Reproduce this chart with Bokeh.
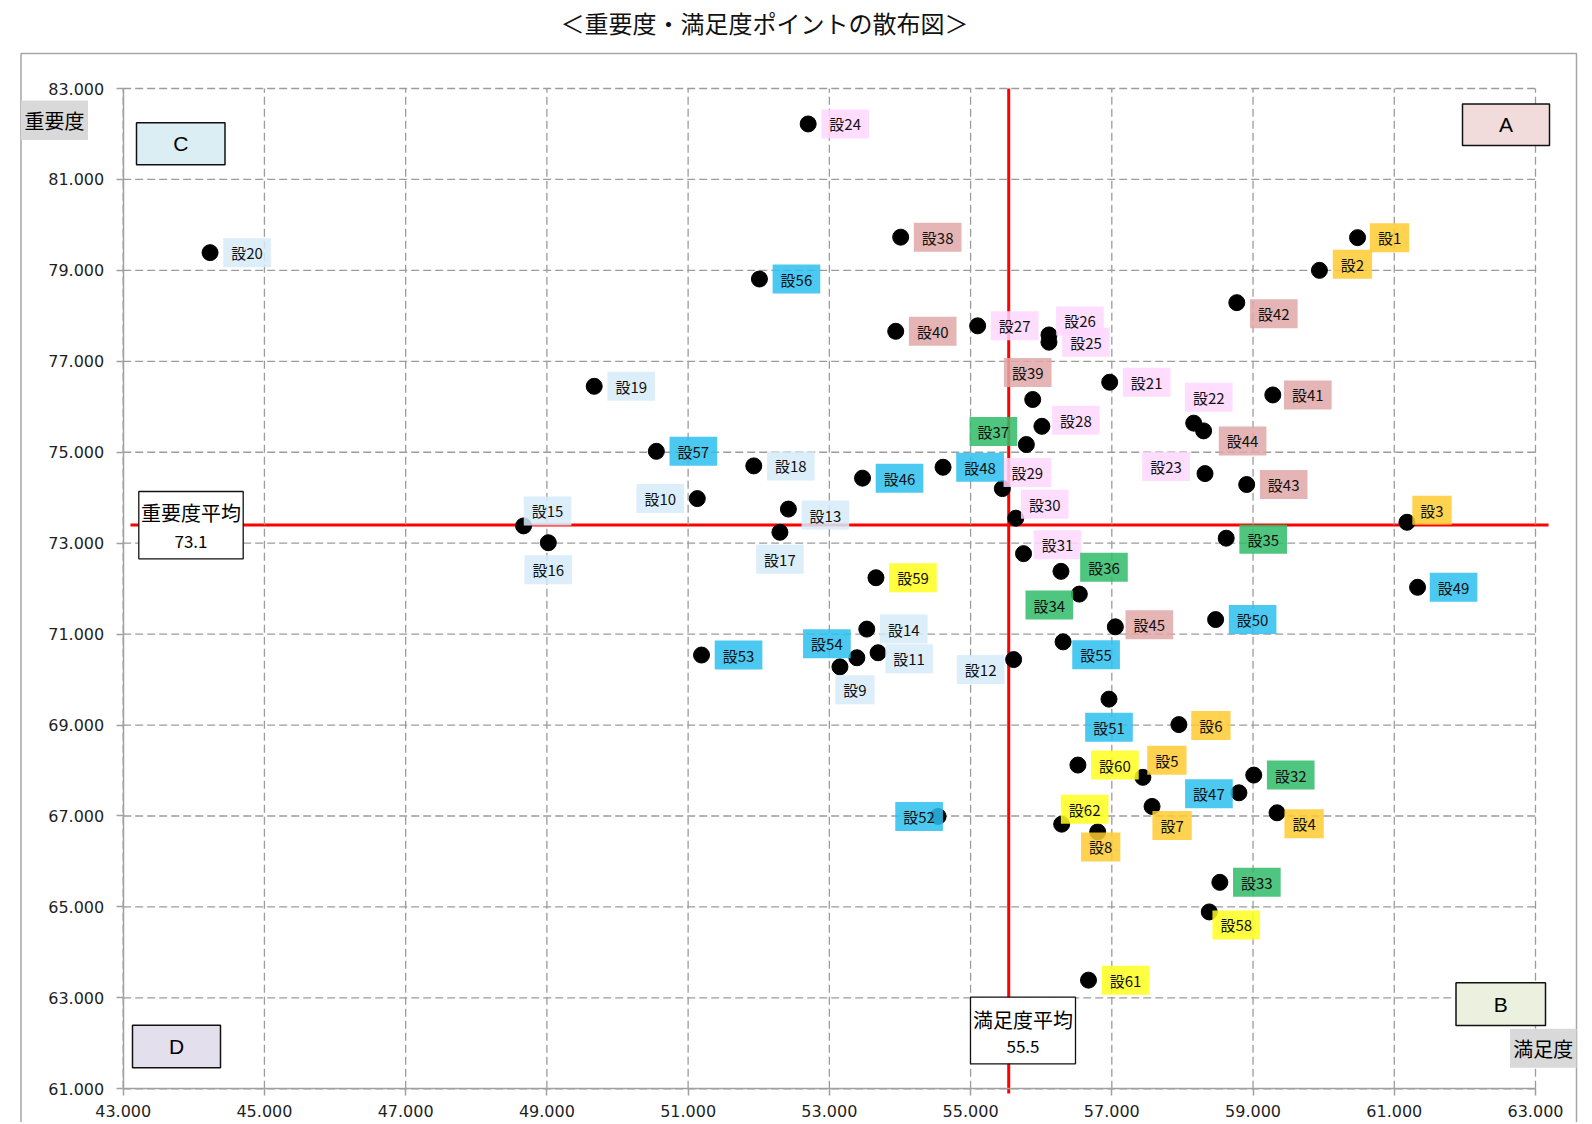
from bokeh.plotting import figure
from bokeh.models import (ColumnDataSource, FixedTicker, PrintfTickFormatter,
                          BoxAnnotation, Label, Arrow, Range1d, LinearAxis)
from bokeh.core.properties import value, field
from bokeh.embed import file_html
from bokeh.resources import INLINE

# ---------------- data ----------------
title_text = "＜重要度・満足度ポイントの散布図＞"
x_axis_title = "満足度"
y_axis_title = "重要度"

item_ids = list(range(1, 63))
item_names = ["設%d" % i for i in item_ids]

satisfaction = [
    60.48, 59.94, 61.18, 59.34, 57.44, 57.95, 57.57, 56.80,            # 1-8
    53.15, 51.13, 53.69, 55.61, 52.42, 53.53, 48.67, 49.02, 52.30,      # 9-17
    51.93, 49.67, 44.23,                                                # 18-20
    56.97, 58.16, 58.32, 52.70, 56.11, 56.11, 55.10, 56.01, 55.45,      # 21-29
    55.64, 55.75,                                                       # 30-31
    59.01, 58.53, 56.54, 58.62, 56.28, 55.79,                           # 32-37
    54.01, 55.88, 53.94, 59.28, 58.77, 58.91, 58.30, 57.05,             # 38-45
    53.47, 58.80, 54.61, 61.33, 58.47, 56.96, 54.54, 51.19, 53.39,      # 46-54
    56.31, 52.01, 50.55,                                                # 55-57
    58.38, 53.66, 56.52, 56.67, 56.29,                                  # 58-62
]
importance = [
    79.72, 79.00, 73.46, 67.07, 67.85, 69.01, 67.21, 66.65,            # 1-8
    70.28, 73.98, 70.59, 70.44, 73.75, 71.11, 73.38, 73.01, 73.24,      # 9-17
    74.70, 76.45, 79.39,                                                # 18-20
    76.54, 75.64, 74.53, 82.22, 77.42, 77.58, 77.78, 75.57, 74.20,      # 21-29
    73.55, 72.77,                                                       # 30-31
    67.90, 65.54, 71.88, 73.11, 72.38, 75.17,                           # 32-37
    79.73, 76.16, 77.66, 76.26, 78.29, 74.29, 75.47, 71.16,             # 38-45
    74.43, 67.51, 74.67, 72.03, 71.32, 69.57, 66.99, 70.54, 70.48,      # 46-54
    70.83, 78.81, 75.02,                                                # 55-57
    64.89, 72.24, 68.12, 63.39, 66.82,                                  # 58-62
]
groups = (["g1"] * 8 + ["g2"] * 12 + ["g3"] * 11 + ["g4"] * 6 +
          ["g5"] * 8 + ["g6"] * 12 + ["g7"] * 5)

satisfaction_avg_text = "55.5"
importance_avg_text = "73.1"
satisfaction_line = 55.54
importance_line = 73.40

x_ticks = [43, 45, 47, 49, 51, 53, 55, 57, 59, 61, 63]
y_ticks = [61, 63, 65, 67, 69, 71, 73, 75, 77, 79, 81, 83]

# ---------------- styles / layout ----------------
group_colors = {"g1": "#FFCA30", "g2": "#D7EBFA", "g3": "#FFD7FF", "g4": "#30BC68",
                "g5": "#E0A7A7", "g6": "#2CBFEF", "g7": "#FFFF1D"}

# label offsets from their point, in pixels (right, down)
label_dx = [32, 33, 25, 27, 24, 32, 20, 3,
            15, -37, 31, -33, 37, 37, 24, 0, 0, 37, 37, 37,
            37, 15, -39, 37, 37, 31, 37, 34, 25, 29, 34,
            37, 37, -30, 37, 43, -33,
            37, -5, 37, 35, 37, 37, 39, 34,
            37, -30, 37, 36, 37, 0, -19, 37, -30, 33, 37, 37,
            27, 37, 37, 37, 23]
label_dy = [0, -6, -12, 11, -17, 1, 19, 15,
            23, 0, 6, 10, 6, 0, -15, 27, 27, 0, 0, 0,
            0, -26, -7, 0, 0, -14, 0, -6, -16, -14, -9,
            0, 0, 11, 1, -4, -13,
            0, -27, 0, 0, 11, 0, 10, -2,
            0, 1, 0, 0, 0, 28, 0, 0, -14, 13, 0, 0,
            13, 0, 0, 0, -15]

X_MIN, X_MAX = 43, 63
Y_MIN, Y_MAX = 61, 83
W, H = 1588, 1122
# where the axis extents sit on the page, in pixels
F_L, F_R, F_T, F_B = 122.7, 1535.0, 88.0, 1088.3


def rx(px):
    return X_MIN + (px - F_L) * (X_MAX - X_MIN) / (F_R - F_L)


def ry(py):
    return Y_MAX - (py - F_T) * (Y_MAX - Y_MIN) / (F_B - F_T)


src = ColumnDataSource(dict(
    x=satisfaction, y=importance, name=item_names,
    label_bg=[group_colors[g] for g in groups],
    dx=label_dx, dy=label_dy,
))

p = figure(width=W, height=H, frame_width=W, frame_height=H,
           min_border=0, x_axis_location=None, y_axis_location=None,
           x_range=Range1d(rx(0), rx(W)), y_range=Range1d(ry(H), ry(0)),
           output_backend="svg", toolbar_location=None, tools="")
p.outline_line_color = None
p.background_fill_color = "white"
p.border_fill_color = "white"
p.xgrid.visible = False
p.ygrid.visible = False

# grid lines from the tick arrays
grid_style = dict(line_color="#9c9c9c", line_dash="8 4", line_width=1.3)
p.segment(x0=x_ticks, y0=[Y_MIN] * len(x_ticks), x1=x_ticks, y1=[Y_MAX] * len(x_ticks),
          **grid_style)
p.segment(x0=[X_MIN] * len(y_ticks), y0=y_ticks, x1=[X_MAX] * len(y_ticks), y1=y_ticks,
          **grid_style)

xaxis = LinearAxis(fixed_location=Y_MIN, bounds=(X_MIN, X_MAX))
yaxis = LinearAxis(fixed_location=X_MIN, bounds=(Y_MIN, Y_MAX))
for ax, ticks in ((xaxis, x_ticks), (yaxis, y_ticks)):
    ax.ticker = FixedTicker(ticks=ticks)
    ax.formatter = PrintfTickFormatter(format="%.3f")
    ax.major_label_text_font = "DejaVu Sans"
    ax.major_label_text_font_size = "16px"
    ax.major_label_text_color = "#1f1f1f"
    ax.axis_line_color = "#a0a0a0"
    ax.axis_line_width = 1.5
    ax.major_tick_line_color = "#a0a0a0"
    ax.major_tick_line_width = 1.5
    ax.major_tick_out = 7
    ax.major_tick_in = 0
    ax.minor_tick_line_color = None
xaxis.major_label_standoff = 9
yaxis.major_label_standoff = 12
p.add_layout(xaxis, "below")
p.add_layout(yaxis, "left")

# average lines
p.add_layout(Arrow(end=None, x_start=rx(130), y_start=importance_line,
                   x_end=rx(1548), y_end=importance_line,
                   line_color="#ff0000", line_width=3, level="underlay"))
p.add_layout(Arrow(end=None, x_start=satisfaction_line, y_start=Y_MAX,
                   x_end=satisfaction_line, y_end=ry(1093),
                   line_color="#ff0000", line_width=3, level="underlay"))

# points and labels
p.scatter("x", "y", source=src, size=16, color="black")
p.text(x="x", y="y", text="name", source=src, x_offset="dx", y_offset="dy",
       text_align="center", text_baseline="middle",
       text_font=value("Noto Sans CJK JP"), text_font_size="15px",
       text_color="#111111",
       background_fill_color=field("label_bg"), background_fill_alpha=0.85,
       padding=(8, 4))

# outer chart border
p.add_layout(BoxAnnotation(left=rx(20.5), right=rx(1576), top=ry(53), bottom=ry(1300),
                           fill_alpha=0, line_color="#a6a6a6", line_alpha=1,
                           line_width=1.5))

# title
p.add_layout(Label(x=rx(764), y=ry(22), text=title_text, text_align="center",
                   text_baseline="middle", text_font="Noto Sans CJK JP",
                   text_font_size="24px", text_color="#111111"))

# quadrant boxes: letter, left, right, top, bottom (page px), fill
quadrants = [("A", 1462, 1549, 103.5, 145, "#F2DCDB"),
             ("B", 1455.5, 1545, 982.3, 1025, "#EBF1DE"),
             ("C", 136, 224.5, 122.3, 164.3, "#DAEEF3"),
             ("D", 132, 220, 1024.7, 1067.3, "#E4DFEC")]
for letter, l, r, t, b, col in quadrants:
    p.add_layout(BoxAnnotation(left=rx(l), right=rx(r), top=ry(t), bottom=ry(b),
                               fill_color=col, fill_alpha=1,
                               line_color="#111111", line_alpha=1, line_width=1.5))
    p.add_layout(Label(x=rx((l + r) / 2), y=ry((t + b) / 2), text=letter,
                       text_align="center", text_baseline="middle",
                       text_font="Liberation Sans", text_font_size="21px",
                       text_color="black"))

# axis title boxes
for txt, l, r, t, b in ((y_axis_title, 20.5, 87.5, 100, 139.5),
                        (x_axis_title, 1509.5, 1576, 1028.3, 1067.3)):
    p.add_layout(BoxAnnotation(left=rx(l), right=rx(r), top=ry(t), bottom=ry(b),
                               fill_color="#D9D9D9", fill_alpha=1, line_color=None))
    p.add_layout(Label(x=rx((l + r) / 2), y=ry((t + b) / 2), text=txt,
                       text_align="center", text_baseline="middle",
                       text_font="Noto Sans CJK JP", text_font_size="20px",
                       text_color="black"))

# average boxes
for head, num, l, r, t, b, y1, y2 in (
        ("重要度平均", importance_avg_text, 138.3, 242.7, 491, 558.3, 511.7, 540.5),
        ("満足度平均", satisfaction_avg_text, 970, 1075, 996.7, 1063.3, 1018.7, 1046)):
    p.add_layout(BoxAnnotation(left=rx(l), right=rx(r), top=ry(t), bottom=ry(b),
                               fill_color="white", fill_alpha=1,
                               line_color="#111111", line_alpha=1, line_width=1.3))
    p.add_layout(Label(x=rx((l + r) / 2), y=ry(y1), text=head,
                       text_align="center", text_baseline="middle",
                       text_font="Noto Sans CJK JP", text_font_size="20px",
                       text_color="black"))
    p.add_layout(Label(x=rx((l + r) / 2), y=ry(y2), text=num,
                       text_align="center", text_baseline="middle",
                       text_font="Noto Sans CJK JP", text_font_size="17px",
                       text_color="black"))

open("out.html", "w").write(file_html(p, INLINE))
